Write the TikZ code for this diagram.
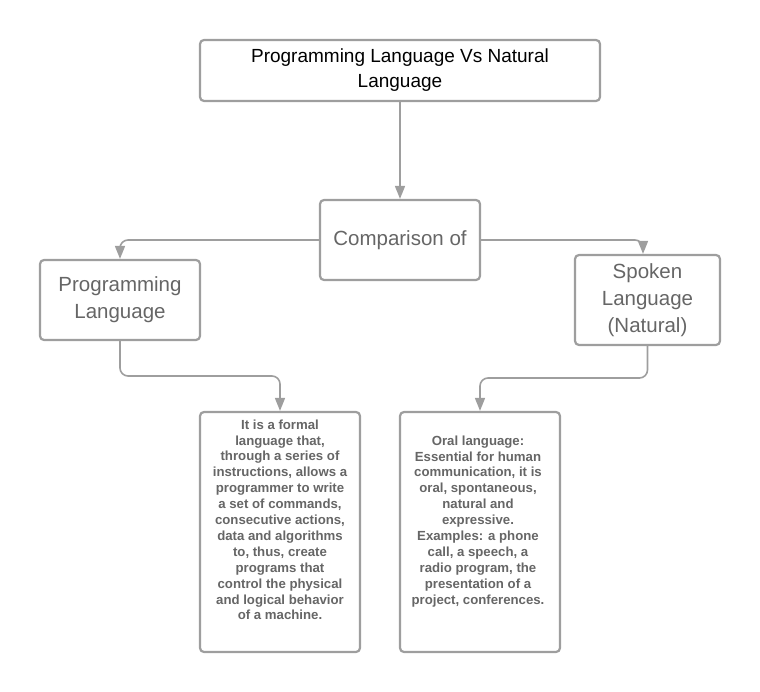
\documentclass[tikz,border=0pt]{standalone}
\usepackage{fontspec}
\setmainfont{Liberation Sans}
\usetikzlibrary{arrows.meta}
\definecolor{ln}{HTML}{9E9E9E}
\definecolor{tx}{HTML}{666666}
\begin{document}
\begin{tikzpicture}[x=1pt,y=-1pt,
  box/.style={draw=ln,line width=2.2pt,rounded corners=4pt,fill=white,inner sep=0pt,align=center},
  conn/.style={draw=ln,line width=1.6pt,rounded corners=8pt,-{Triangle[width=10pt,length=13pt]}},
  small/.style={font=\bfseries\fontsize{13.2}{15.9}\selectfont,text=tx,anchor=north,align=center}]
\useasboundingbox (0,0) rectangle (760,692);
\node[box,minimum width=400pt,minimum height=61pt,font=\fontsize{19}{25}\selectfont] (t) at (400,70.5) {Programming Language Vs Natural\\Language};
\node[box,minimum width=160pt,minimum height=80pt,text=tx,font=\fontsize{20.5}{26}\selectfont] (c) at (400,240) {Comparison of};
\node[box,minimum width=160pt,minimum height=80pt,text=tx,font=\fontsize{20.5}{27}\selectfont] (p) at (120,300) {Programming\\Language};
\node[box,minimum width=145pt,minimum height=90pt,text=tx,font=\fontsize{20.5}{27}\selectfont] (s) at (647.5,300) {Spoken\\Language\\(Natural)};
\node[box,minimum width=160pt,minimum height=240pt] (a) at (280,532) {};
\node[box,minimum width=160pt,minimum height=240pt] (b) at (480,532) {};
\node[small] (at) at (280,416) {It is a formal\\language that,\\through a series of\\instructions, allows a\\programmer to write\\a set of commands,\\consecutive actions,\\data and algorithms\\to, thus, create\\programs that\\control the physical\\and logical behavior\\of a machine.};
\node[small] (bt) at (478,432) {Oral language:\\Essential for human\\communication, it is\\oral, spontaneous,\\natural and\\expressive.\\Examples: a phone\\call, a speech, a\\radio program, the\\presentation of a\\project, conferences.};
\draw[conn] (t.south) -- (c.north);
\draw[conn] (c.west) -| (p.north);
\draw[conn] (c.east) -| (s.north -| 643,0);
\draw[conn] (p.south) |- (200,376) -| (a.north);
\draw[conn] (s.south) |- (560,378) -| (b.north);
\end{tikzpicture}
\end{document}
